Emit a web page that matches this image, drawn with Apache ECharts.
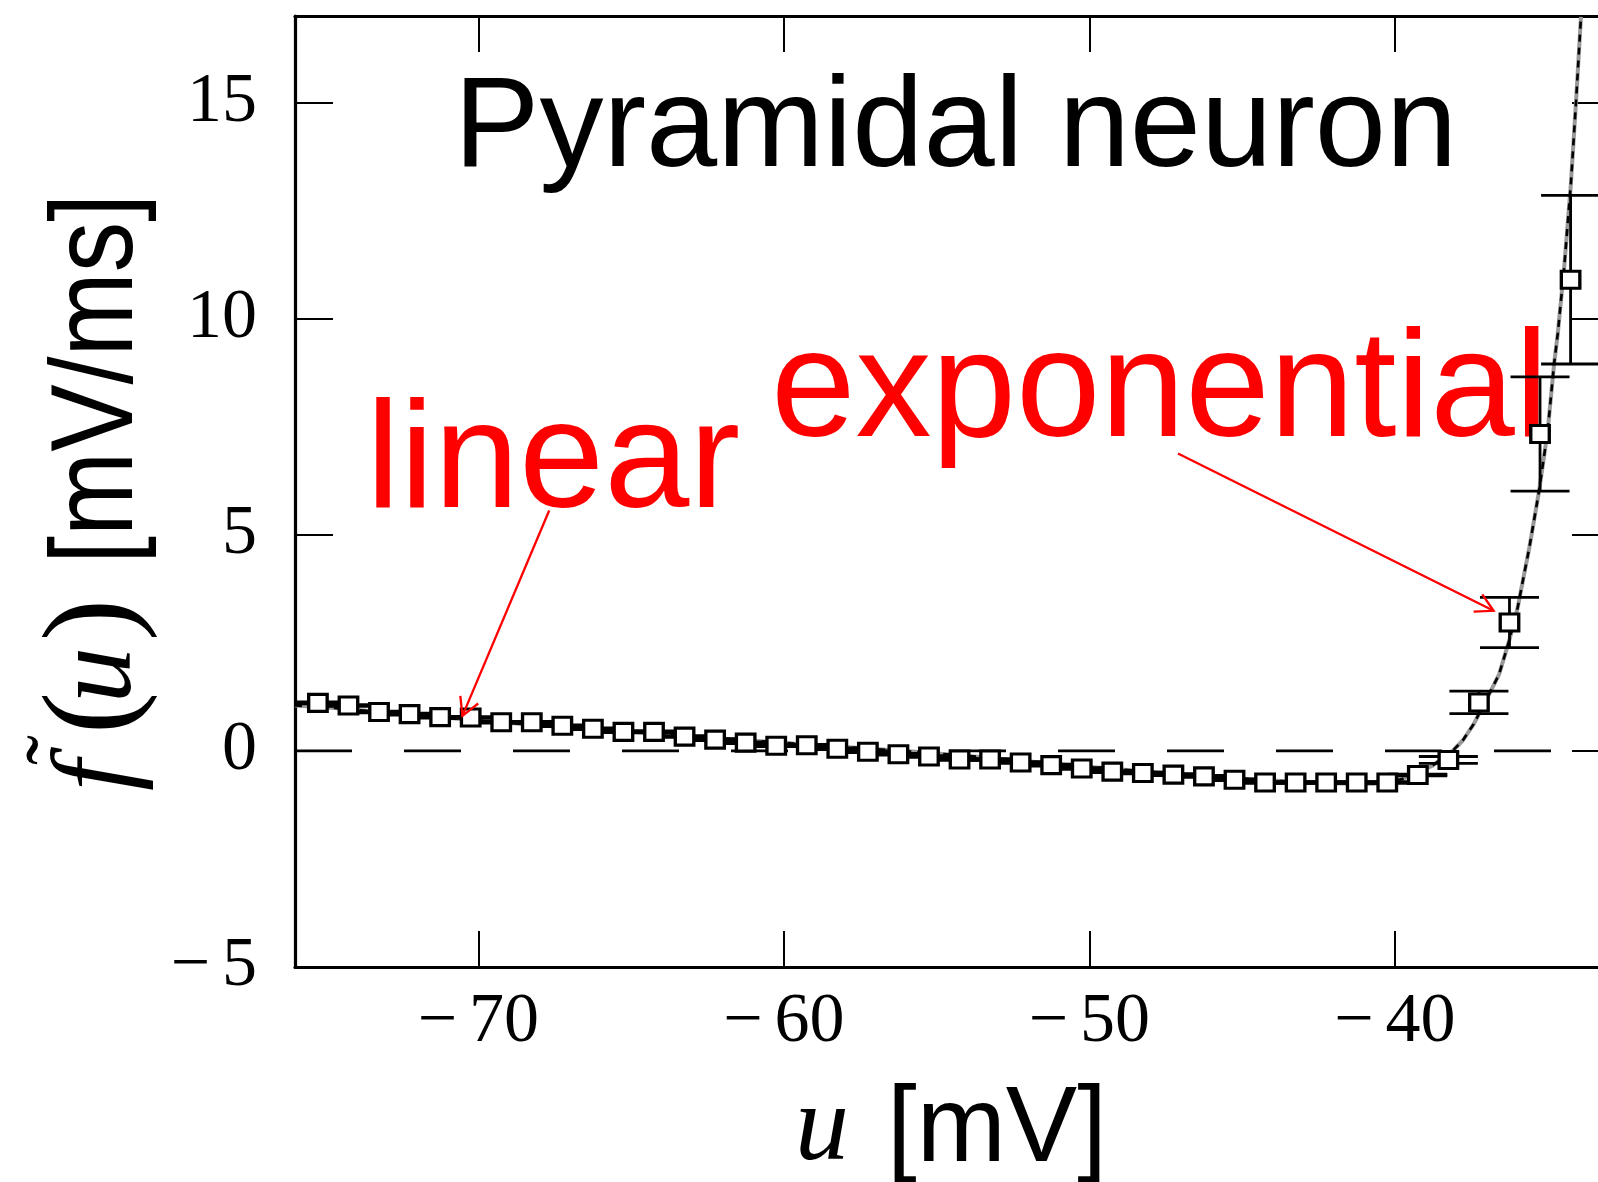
<!DOCTYPE html>
<html>
<head>
<meta charset="utf-8">
<script src="https://cdn.jsdelivr.net/npm/echarts@6/dist/echarts.min.js"></script>
<style>
  html, body { margin: 0; padding: 0; background: #fff; }
  #chart { width: 1598px; height: 1182px; }
</style>
</head>
<body>
<div id="chart"></div>
<script>
// measured points (membrane potential u, f(u)) with error half-widths
const uValues = [-75.25, -74.25, -73.25, -72.25, -71.25, -70.25, -69.25, -68.25, -67.25, -66.25,
  -65.25, -64.25, -63.25, -62.25, -61.25, -60.25, -59.25, -58.25, -57.25, -56.25,
  -55.25, -54.25, -53.25, -52.25, -51.25, -50.25, -49.25, -48.25, -47.25, -46.25,
  -45.25, -44.25, -43.25, -42.25, -41.25, -40.25, -39.25, -38.25, -37.25, -36.25,
  -35.25, -34.25]
const fValues = [1.11, 1.05, 0.90, 0.85, 0.78, 0.77, 0.66, 0.66, 0.58, 0.51,
  0.44, 0.44, 0.33, 0.26, 0.19, 0.12, 0.13, 0.05, -0.02, -0.08,
  -0.13, -0.20, -0.20, -0.27, -0.33, -0.41, -0.48, -0.51, -0.55, -0.59,
  -0.67, -0.73, -0.73, -0.73, -0.73, -0.73, -0.56, -0.21, 1.12, 2.97,
  7.33, 10.9]
const fErrors = [0.02, 0.02, 0.02, 0.02, 0.02, 0.02, 0.02, 0.02, 0.02, 0.02,
  0.02, 0.02, 0.02, 0.02, 0.02, 0.02, 0.02, 0.02, 0.02, 0.02,
  0.02, 0.02, 0.02, 0.02, 0.02, 0.02, 0.02, 0.02, 0.02, 0.02,
  0.02, 0.02, 0.02, 0.02, 0.02, 0.02, 0.02, 0.08, 0.26, 0.58,
  1.32, 1.95]

// fitted curve
const fitU = [-76, -74.7, -69.8, -64.8, -59.7, -55.7, -53.6, -49.5, -45.5, -42.5,
  -40.7, -39.75, -38.77, -38.11, -37.78, -37.42, -36.86, -36.59, -36.26, -35.98,
  -35.77, -35.6, -35.28, -35.0, -34.79, -34.67, -34.46, -34.24, -34.07, -33.91]
const fitF = [1.05, 0.99, 0.69, 0.42, 0.17, -0.02, -0.14, -0.40, -0.62, -0.75,
  -0.76, -0.65, -0.34, 0.0, 0.24, 0.62, 1.39, 1.77, 2.55, 3.32,
  4.09, 4.70, 6.02, 7.40, 8.95, 9.65, 11.18, 13.12, 15.04, 16.98]

const zeroLineU = [-76, -32.96]
const xTicks = [-70, -60, -50, -40]
const yTicks = [-5, 0, 5, 10, 15]

// annotation arrows: [fromU, fromF, toU, toF]
const linearArrow = [-67.68, 5.56, -70.52, 0.81]
const expArrow = [-47.10, 6.88, -36.77, 3.24]

const minus = (v) => String(v).replace('-', '\u2212\u2006')

const chart = echarts.init(document.getElementById('chart'))

const axisLine = { show: true, onZero: false, lineStyle: { color: '#000', width: 3.2 } }
const tickStyle = { color: '#000', width: 2 }

const option = {
  animation: false,
  backgroundColor: '#fff',
  grid: { left: 295, top: 16, right: -12, bottom: 215, containLabel: false, outerBoundsMode: 'none' },
  xAxis: [
    {
      type: 'value', min: -76, max: -32.96, position: 'bottom',
      axisLine: axisLine,
      axisTick: { inside: true, length: 36, lineStyle: tickStyle, customValues: xTicks },
      axisLabel: {
        customValues: xTicks, formatter: minus, margin: 21,
        fontFamily: 'Liberation Serif', fontSize: 70, color: '#000'
      },
      splitLine: { show: false }
    },
    {
      type: 'value', min: -76, max: -32.96, position: 'top',
      axisLine: axisLine,
      axisTick: { inside: true, length: 36, lineStyle: tickStyle, customValues: xTicks },
      axisLabel: { show: false },
      splitLine: { show: false }
    }
  ],
  yAxis: [
    {
      type: 'value', min: -5, max: 17, position: 'left',
      axisLine: axisLine,
      axisTick: { inside: true, length: 38, lineStyle: tickStyle, customValues: yTicks },
      axisLabel: {
        customValues: yTicks, formatter: minus, margin: 38,
        fontFamily: 'Liberation Serif', fontSize: 70, color: '#000'
      },
      splitLine: { show: false }
    },
    {
      type: 'value', min: -5, max: 17, position: 'right',
      axisLine: axisLine,
      axisTick: { inside: true, length: 38, lineStyle: tickStyle, customValues: yTicks },
      axisLabel: { show: false },
      splitLine: { show: false }
    }
  ],
  graphic: [
    {
      type: 'text', x: 454, y: 131,
      style: { text: 'Pyramidal neuron', font: '128px "Liberation Sans"', fill: '#000', align: 'left', verticalAlign: 'middle' }
    },
    {
      type: 'text', x: 366, y: 465,
      style: { text: 'linear', font: '153px "Liberation Sans"', fill: '#ff0000', align: 'left', verticalAlign: 'middle' }
    },
    {
      type: 'text', x: 771, y: 394,
      style: { text: 'exponential', font: '152px "Liberation Sans"', fill: '#ff0000', align: 'left', verticalAlign: 'middle' }
    },
    // x axis name: u [mV]
    {
      type: 'text', x: 795, y: 1131,
      style: { text: 'u', font: 'italic 108px "Liberation Serif"', fill: '#000', align: 'left', verticalAlign: 'middle' }
    },
    {
      type: 'text', x: 887, y: 1131,
      style: { text: '[mV]', font: '107px "Liberation Sans"', fill: '#000', align: 'left', verticalAlign: 'middle' }
    },
    // y axis name: f~(u) [mV/ms], rotated
    {
      type: 'text', x: 100, y: 791, rotation: Math.PI / 2,
      style: { text: 'f', font: 'italic 112px "Liberation Serif"', fill: '#000', align: 'left', verticalAlign: 'middle' }
    },
    {
      type: 'text', x: 64, y: 750, rotation: Math.PI / 2,
      style: { text: '\u02DC', font: '90px "Liberation Serif"', fill: '#000', align: 'center', verticalAlign: 'middle' }
    },
    {
      type: 'text', x: 97, y: 734, rotation: Math.PI / 2,
      style: { text: '(', font: '126px "Liberation Serif"', fill: '#000', align: 'left', verticalAlign: 'middle' }
    },
    {
      type: 'text', x: 101, y: 703, rotation: Math.PI / 2,
      style: { text: 'u', font: 'italic 112px "Liberation Serif"', fill: '#000', align: 'left', verticalAlign: 'middle' }
    },
    {
      type: 'text', x: 97, y: 641, rotation: Math.PI / 2,
      style: { text: ')', font: '126px "Liberation Serif"', fill: '#000', align: 'left', verticalAlign: 'middle' }
    },
    {
      type: 'text', x: 100, y: 564, rotation: Math.PI / 2, scaleY: 1.15,
      style: { text: '[mV/ms]', font: '101px "Liberation Sans"', fill: '#000', align: 'left', verticalAlign: 'middle' }
    }
  ],
  series: [
    {
      name: 'zero', type: 'line', silent: true, symbol: 'none',
      data: zeroLineU.map(u => [u, 0]),
      lineStyle: { color: '#000', width: 2.7, type: [57, 52] },
      z: 1
    },
    {
      name: 'fit', type: 'line', silent: true, symbol: 'none',
      data: fitU.map((u, i) => [u, fitF[i]]),
      lineStyle: { color: '#999', width: 4 },
      z: 2
    },
    {
      name: 'fitDash', type: 'line', silent: true, symbol: 'none',
      data: fitU.map((u, i) => [u, fitF[i]]),
      lineStyle: { color: '#000', width: 2.6, type: [7, 6] },
      z: 3
    },
    {
      name: 'errors', type: 'custom', silent: true, z: 4, clip: true,
      data: uValues.map((u, i) => [u, fValues[i], fValues[i] - fErrors[i], fValues[i] + fErrors[i]]),
      renderItem: (params, api) => {
        const lo = api.coord([api.value(0), api.value(2)])
        const hi = api.coord([api.value(0), api.value(3)])
        const hw = 29.5
        const st = { stroke: '#000', lineWidth: 2.8 }
        return {
          type: 'group',
          children: [
            { type: 'line', shape: { x1: lo[0], y1: lo[1], x2: hi[0], y2: hi[1] }, style: st },
            { type: 'line', shape: { x1: lo[0] - hw, y1: lo[1], x2: lo[0] + hw, y2: lo[1] }, style: st },
            { type: 'line', shape: { x1: hi[0] - hw, y1: hi[1], x2: hi[0] + hw, y2: hi[1] }, style: st }
          ]
        }
      }
    },
    {
      name: 'data', type: 'scatter', silent: true, z: 5,
      symbol: 'rect', symbolSize: [18.5, 17],
      data: uValues.map((u, i) => [u, fValues[i]]),
      itemStyle: { color: '#fff', borderColor: '#000', borderWidth: 3.2, opacity: 1 }
    },
    {
      name: 'arrows', type: 'custom', silent: true, z: 6,
      data: [linearArrow, expArrow],
      renderItem: (params, api) => {
        const a = api.coord([api.value(0), api.value(1)])
        const b = api.coord([api.value(2), api.value(3)])
        const ang = Math.atan2(a[1] - b[1], a[0] - b[0])
        const len = 20, spread = 29 * Math.PI / 180
        const st = { stroke: '#ff0000', lineWidth: 2.3, fill: null }
        return {
          type: 'group',
          children: [
            { type: 'line', shape: { x1: a[0], y1: a[1], x2: b[0], y2: b[1] }, style: st },
            { type: 'polyline', shape: { points: [
              [b[0] + len * Math.cos(ang + spread), b[1] + len * Math.sin(ang + spread)],
              [b[0], b[1]],
              [b[0] + len * Math.cos(ang - spread), b[1] + len * Math.sin(ang - spread)]
            ] }, style: st }
          ]
        }
      }
    }
  ]
}

chart.setOption(option)
</script>
</body>
</html>
